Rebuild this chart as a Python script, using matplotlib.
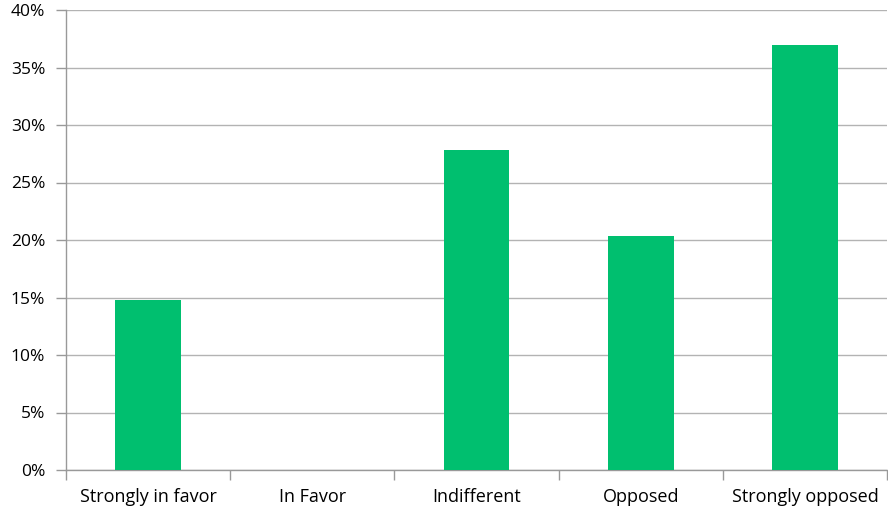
import matplotlib
matplotlib.use("Agg")
import matplotlib.pyplot as plt
from matplotlib.ticker import MultipleLocator, FuncFormatter
import numpy as np

categories = ["Strongly in favor", "In Favor", "Indifferent", "Opposed", "Strongly opposed"]
values = [14.8, 0.0, 27.8, 20.35, 37.0]

plt.rcParams['font.family'] = ['Open Sans', 'DejaVu Sans']

fig = plt.figure(figsize=(8.88, 5.12), dpi=100)
ax = fig.add_axes([66 / 888, 42 / 512, 821 / 888, 460 / 512])

x = np.arange(len(categories))
ax.bar(x, values, width=0.4, color="#00BF6F", zorder=3)

ax.set_xlim(-0.5, len(categories) - 0.5)
ax.set_ylim(0, 40)

# gridlines and y ticks
ax.yaxis.set_major_locator(MultipleLocator(5))
ax.yaxis.set_major_formatter(FuncFormatter(lambda v, p: f"{v:.0f}%"))
ax.grid(axis="y", color="#b3b3b3", linewidth=1, zorder=0)

# category labels centered, tick marks at boundaries
ax.set_xticks(np.arange(-0.5, len(categories)), minor=False)
ax.set_xticklabels([])
ax.set_xticks(x, minor=True)
ax.set_xticklabels(categories, minor=True)
ax.tick_params(axis="x", which="minor", length=0, pad=13, labelsize=13)
ax.tick_params(axis="x", which="major", length=7, color="#999999", width=1)
ax.tick_params(axis="y", length=7, color="#999999", width=1, labelsize=12.5, pad=8)

for s in ["top", "right"]:
    ax.spines[s].set_visible(False)
for s in ["left", "bottom"]:
    ax.spines[s].set_color("#999999")
    ax.spines[s].set_linewidth(1)

fig.savefig("out.png", dpi=100)
